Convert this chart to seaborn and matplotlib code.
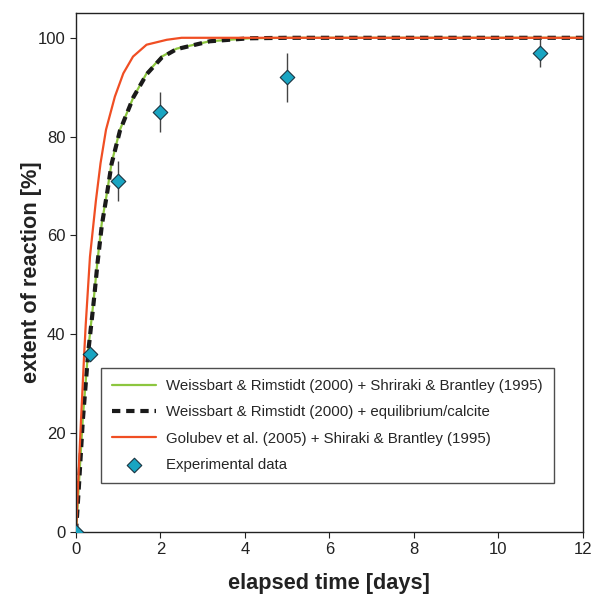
import numpy as np
import pandas as pd
import seaborn as sns
import matplotlib
matplotlib.use('Agg')
import matplotlib.pyplot as plt

# model curves (time in days, extent in %)
t_wr_shiraki = [0, 0.07, 0.16, 0.29, 0.38, 0.43, 0.51, 0.61, 0.74, 0.84, 1.04,
                1.36, 1.67, 2.03, 2.38, 3.17, 4.1, 5, 12]
y_wr_shiraki = [0, 10, 23, 37, 44, 48, 55, 62.5, 69, 74.6, 81.4,
                88, 92.8, 96.2, 97.8, 99.3, 99.9, 100, 100]

t_wr_calcite = [0, 0.07, 0.16, 0.29, 0.38, 0.43, 0.51, 0.61, 0.74, 0.84, 1.04,
                1.36, 1.67, 2.03, 2.38, 3.17, 4.1, 5, 12]
y_wr_calcite = [0, 9.5, 22.5, 36.5, 43.5, 47.5, 54.5, 62, 68.8, 74.4, 81.2,
                88, 92.6, 96, 97.7, 99.3, 99.9, 100, 100]

t_golubev = [0, 0.05, 0.12, 0.19, 0.23, 0.33, 0.47, 0.58, 0.71, 0.92, 1.12,
             1.35, 1.67, 2.15, 2.5, 12]
y_golubev = [0, 10, 23, 35.5, 42, 55.7, 67, 74.6, 81.4, 88.1, 92.8,
             96.2, 98.6, 99.6, 100, 100]

# experimental data
t_exp = [0, 0.33, 1, 2, 5, 11]
y_exp = [0, 36, 71, 85, 92, 97]
err_exp = [0, 0, 4, 4, 5, 3]

labels = ['Weissbart & Rimstidt (2000) + Shriraki & Brantley (1995)',
          'Weissbart & Rimstidt (2000) + equilibrium/calcite',
          'Golubev et al. (2005) + Shiraki & Brantley (1995)',
          'Experimental data']

sns.set_style('ticks')
plt.rcParams['font.family'] = ['Liberation Sans', 'DejaVu Sans']

fig = plt.figure(figsize=(5.94, 5.95), dpi=100)
ax = fig.add_axes([0.128, 0.106, 0.853, 0.872])

sns.lineplot(x=t_wr_shiraki, y=y_wr_shiraki, ax=ax, color='#8cc63f',
             linewidth=1.6, label=labels[0], sort=False)
sns.lineplot(x=t_wr_calcite, y=y_wr_calcite, ax=ax, color='#1a1a1a',
             linewidth=3.0, dashes=False, label=labels[1], sort=False)
ax.lines[-1].set_dashes([2.0, 1.4])
sns.lineplot(x=t_golubev, y=y_golubev, ax=ax, color='#f04e23',
             linewidth=1.6, label=labels[2], sort=False)

ax.errorbar(t_exp, y_exp, yerr=err_exp, fmt='none', ecolor='#444444',
            elinewidth=1.0, capsize=0, zorder=3)
sns.scatterplot(x=t_exp, y=y_exp, ax=ax, marker='D', s=55, color='#19a5c2',
                edgecolor='#1a3340', linewidth=0.8, label=labels[3], zorder=4)

ax.set_xlim(0, 12)
ax.set_ylim(0, 105)
ax.set_xticks(range(0, 13, 2))
ax.set_yticks(range(0, 101, 20))
ax.tick_params(labelsize=12, length=4, width=0.8, colors='#222222')
for s in ax.spines.values():
    s.set_color('#222222')
    s.set_linewidth(1.0)

ax.set_xlabel('elapsed time [days]', fontsize=15.7, fontweight='bold',
              color='#222222')
ax.set_ylabel('extent of reaction [%]', fontsize=15.7, fontweight='bold',
              color='#222222')
ax.xaxis.set_label_coords(0.499, -0.08)
ax.yaxis.set_label_coords(-0.067, 0.501)

leg = ax.legend(loc='lower left', bbox_to_anchor=(0.049, 0.094),
                borderaxespad=0, fontsize=10.8, frameon=True, fancybox=False,
                edgecolor='#222222', labelspacing=0.82, handlelength=2.9,
                borderpad=0.75, handletextpad=0.7)
leg.get_frame().set_linewidth(1.0)

fig.savefig('out.png', dpi=100)
